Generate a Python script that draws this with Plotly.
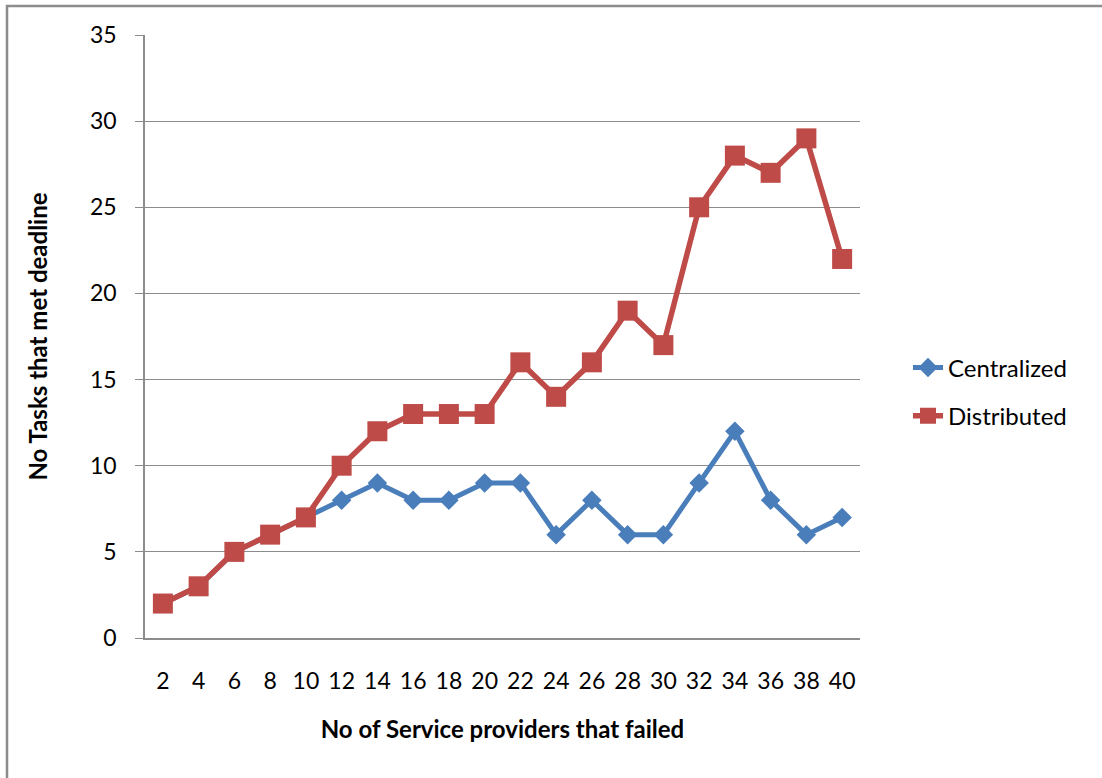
import plotly.graph_objects as go

categories = ["2", "4", "6", "8", "10", "12", "14", "16", "18", "20",
              "22", "24", "26", "28", "30", "32", "34", "36", "38", "40"]
centralized = [2, 3, 5, 6, 7, 8, 9, 8, 8, 9, 9, 6, 8, 6, 6, 9, 12, 8, 6, 7]
distributed = [2, 3, 5, 6, 7, 10, 12, 13, 13, 13, 16, 14, 16, 19, 17, 25, 28, 27, 29, 22]
y_ticks = [0, 5, 10, 15, 20, 25, 30, 35]

FONT = "Lato, Carlito, 'Open Sans', sans-serif"
GRID = "#8c8c8c"

fig = go.Figure()
fig.add_trace(go.Scatter(
    x=categories, y=centralized, name="Centralized", mode="lines+markers",
    line=dict(color="#4A7EBB", width=5),
    marker=dict(symbol="diamond", size=15, color="#4A7EBB"),
    legendgroup="c"))
fig.add_trace(go.Scatter(
    x=categories, y=distributed, name="Distributed", mode="lines+markers",
    line=dict(color="#BE4B48", width=5.5),
    marker=dict(symbol="square", size=20, color="#BE4B48"),
    legendgroup="d"))

L, R, T, B = 145, 242, 35, 140
W, H = 1102, 778
pw, ph = W - L - R, H - T - B

def px(x):
    return (x - L) / pw

def py(y):
    return (H - B - y) / ph

fig.update_layout(
    width=W, height=H,
    margin=dict(l=L, r=R, t=T, b=B),
    paper_bgcolor="white", plot_bgcolor="white",
    font=dict(family=FONT, size=24, color="black"),
    showlegend=True,
    legend=dict(x=px(908), y=py(392), xanchor="left", yanchor="middle",
                font=dict(size=24), tracegroupgap=14, bgcolor="rgba(0,0,0,0)"),
    xaxis=dict(
        type="category", categoryorder="array", categoryarray=categories,
        range=[-0.5, len(categories) - 0.5],
        showgrid=False, showline=True, linecolor=GRID, linewidth=1.5,
        ticks="", ticklabelstandoff=22, tickfont=dict(size=23),
        title=dict(text="<b>No of Service providers that failed</b>",
                   font=dict(size=24), standoff=28),
        zeroline=False),
    yaxis=dict(
        range=[0, 35], tickvals=y_ticks,
        showgrid=True, gridcolor=GRID, gridwidth=1.2,
        showline=True, linecolor=GRID, linewidth=1.5,
        ticks="outside", ticklen=8, tickcolor=GRID, tickwidth=1.2,
        ticklabelstandoff=14, tickfont=dict(size=23),
        title=dict(text="<b>No Tasks that met deadline</b>",
                   font=dict(size=24), standoff=36),
        zeroline=False),
    shapes=[dict(type="rect", xref="paper", yref="paper",
                 x0=px(7), x1=px(1110), y0=py(790), y1=py(6),
                 line=dict(color="#8c8c8c", width=2.5), fillcolor="rgba(0,0,0,0)",
                 layer="below")],
)

fig.write_html("out.html")
